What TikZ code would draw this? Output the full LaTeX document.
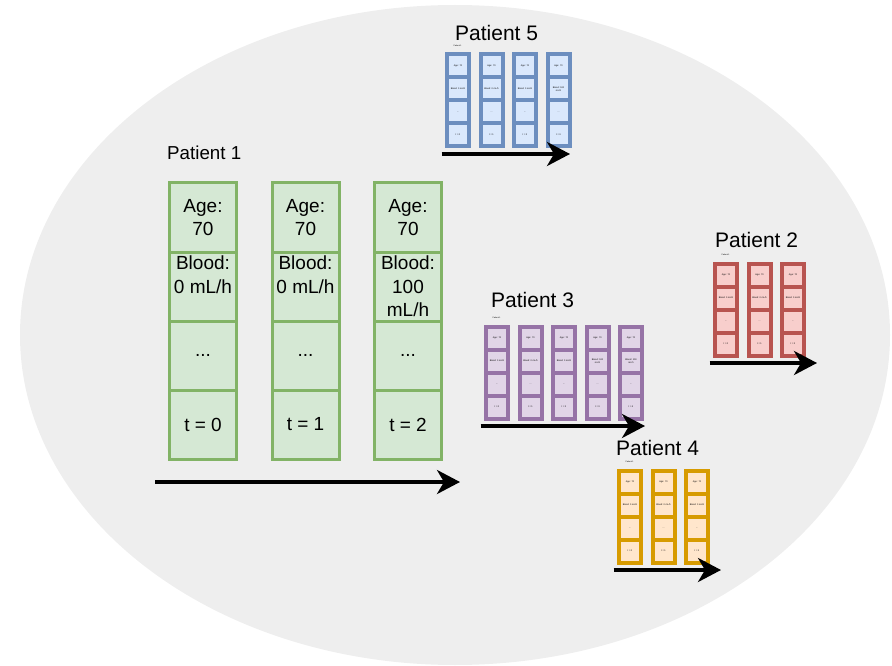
\documentclass[tikz,border=0pt]{standalone}
\usepackage{fontspec}
\setmainfont{Liberation Sans}
\usetikzlibrary{arrows.meta}
\definecolor{cohortgray}{HTML}{EEEEEE}
\definecolor{linegreen}{HTML}{82B366}
\definecolor{fillgreen}{HTML}{D5E8D4}
\definecolor{lineblue}{HTML}{6C8EBF}
\definecolor{fillblue}{HTML}{DAE8FC}
\definecolor{linepurple}{HTML}{9673A6}
\definecolor{fillpurple}{HTML}{E1D5E7}
\definecolor{linered}{HTML}{B85450}
\definecolor{fillred}{HTML}{F8CECC}
\definecolor{lineorange}{HTML}{D79B00}
\definecolor{fillorange}{HTML}{FFE6CC}

\begin{document}
\begin{tikzpicture}[x=1pt,y=-1pt]
    \tikzstyle{big cell}=[draw=linegreen, fill=fillgreen, line width=3pt, minimum width=67pt, minimum height=69pt, inner sep=0pt, align=center, font=\fontsize{19}{23.5}\selectfont]
    \tikzstyle{small cell}=[line width=4pt, minimum width=22pt, minimum height=23pt, inner sep=0pt, align=center, font=\fontsize{2.3}{2.8}\selectfont]
    \tikzstyle{time arrow}=[line width=3.5pt, -{Stealth[length=23pt, width=24pt, inset=7pt]}]
    \tikzstyle{title}=[anchor=west, inner sep=0pt, font=\fontsize{21}{24}\selectfont]
    \tikzstyle{tiny title}=[anchor=west, inner sep=0pt, font=\fontsize{2}{2.4}\selectfont]

    \useasboundingbox (0,0) rectangle (892,666);

    % The cohort
    \fill[cohortgray] (455,335) ellipse [x radius=435, y radius=330];

    % Patient 1, drawn large
    \node[anchor=west, inner sep=0pt, font=\fontsize{18.75}{23}\selectfont] (T1) at (167,153) {Patient 1};
    \foreach \t / \blood in {0/{0 mL/h\\\mbox{}}, 1/{0 mL/h\\\mbox{}}, 2/{100\\mL/h}}
    {
        \node[big cell] (P1-\t-1) at ({203+102.5*\t},217.5) {Age:\\70};
        \node[big cell] (P1-\t-2) at ({203+102.5*\t},286.5) {Blood:\\\blood};
        \node[big cell] (P1-\t-3) at ({203+102.5*\t},355.5) {...};
        \node[big cell] (P1-\t-4) at ({203+102.5*\t},424.5) {t = \t};
    }
    \coordinate (P1-start) at (155,482);
    \coordinate (P1-end) at (460,482);
    \draw[time arrow] (P1-start) -- (P1-end);

    % The other patients, drawn small
    \foreach \p / \x / \y / \n / \pc / \tx / \ty / \ax in {
        5/446.5/54.5/4/blue/455/33/570,
        3/485.5/326.5/5/purple/491/300/645,
        2/714.5/263.5/3/red/715/240/817,
        4/618.5/470.5/3/orange/616/448/721}
    {
        \node[title] (T\p) at (\tx,\ty) {Patient \p};
        \node[tiny title] (t\p) at ({\x+7},{\y-8.7}) {Patient 1};
        \foreach \c in {1,...,\n}
        {
            \pgfmathsetmacro\cx{\x+11.5+33.5*(\c-1)}
            \pgfmathtruncatemacro\t{\c-1}
            \ifnum\c>3 \def\bloodtext{Blood: 100\\mL/h}\else\def\bloodtext{Blood: 0 mL/h}\fi
            \node[small cell, draw=line\pc, fill=fill\pc] (P\p-\t-1) at (\cx,{\y+11.5}) {Age: 70};
            \node[small cell, draw=line\pc, fill=fill\pc] (P\p-\t-2) at (\cx,{\y+34.5}) {\bloodtext};
            \node[small cell, draw=line\pc, fill=fill\pc] (P\p-\t-3) at (\cx,{\y+57.5}) {...};
            \node[small cell, draw=line\pc, fill=fill\pc] (P\p-\t-4) at (\cx,{\y+80.5}) {t = \t};
        }
        \coordinate (P\p-start) at ({\x-5},{\y+99.5});
        \coordinate (P\p-end) at (\ax,{\y+99.5});
        \draw[time arrow] (P\p-start) -- (P\p-end);
    }
\end{tikzpicture}
\end{document}
